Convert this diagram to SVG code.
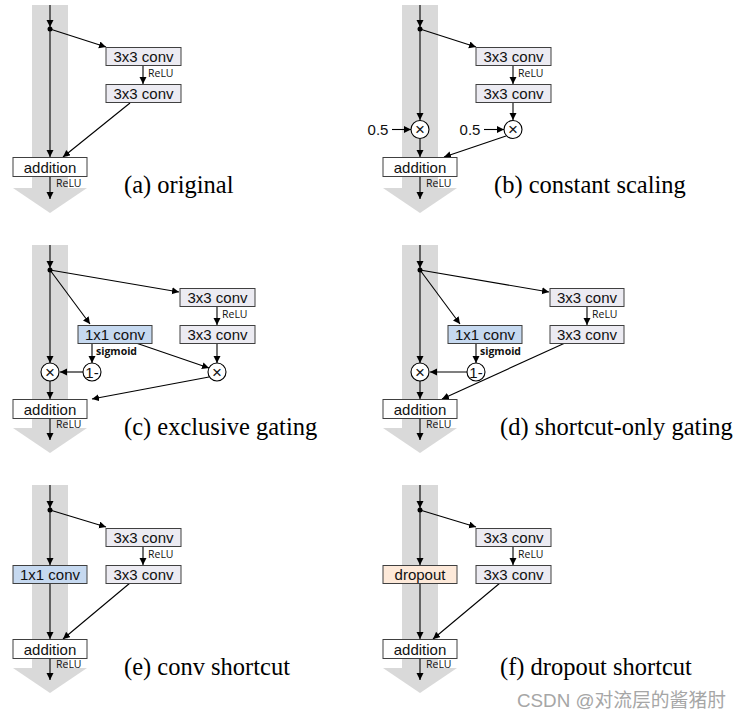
<svg xmlns="http://www.w3.org/2000/svg" width="743" height="719" viewBox="0 0 743 719">
<defs>
<marker id="ah" markerUnits="userSpaceOnUse" markerWidth="8" markerHeight="8" refX="7" refY="3.5" orient="auto"><path d="M0,0 L7,3.5 L0,7 z" fill="#000"/></marker>
<g id="band"><rect x="32" y="0" width="36" height="183" fill="#d9d9d9"/><polygon points="13,183 87,183 50,208" fill="#d9d9d9"/></g>
</defs>
<style>
.ln{stroke:#000;stroke-width:1.1;fill:none}
.ar{stroke:#000;stroke-width:1.1;fill:none;marker-end:url(#ah)}
.box{stroke:#404040;stroke-width:1}
.conv{fill:#ecebf2}
.add{fill:#fff}
.blue{fill:#c6d9f0}
.drop{fill:#fde9d9}
.bt{font-family:"Liberation Sans",Arial,sans-serif;font-size:15px;fill:#111;text-anchor:middle}
.sm{font-family:"Open Sans","Liberation Sans",sans-serif;font-size:10.5px;fill:#111}
.sb{font-family:"Open Sans","Liberation Sans",sans-serif;font-size:10.5px;font-weight:bold;fill:#111}
.cap{font-family:"Liberation Serif","Times New Roman",serif;font-size:24.5px;fill:#000}
.circ{fill:#fff;stroke:#000;stroke-width:1.1}
.ct{font-family:"Liberation Sans",sans-serif;font-size:17px;fill:#111;text-anchor:middle}
.wm{font-family:"Liberation Sans","Noto Sans CJK SC",sans-serif;font-size:18.8px;fill:#a6a6a6}
</style>

<!-- bands -->
<use href="#band" x="0" y="5"/>
<use href="#band" x="370" y="5"/>
<use href="#band" x="0" y="245"/>
<use href="#band" x="370" y="245"/>
<use href="#band" x="0" y="485"/>
<use href="#band" x="370" y="485"/>

<g id="connectors">
<!-- (a) -->
<line class="ar" x1="50" y1="5" x2="50" y2="27"/>
<line class="ar" x1="50" y1="29" x2="50" y2="157"/>
<line class="ar" x1="50" y1="29" x2="106" y2="47"/>
<line class="ar" x1="143" y1="65" x2="143" y2="84"/>
<line class="ar" x1="130" y1="103" x2="63" y2="157"/>
<line class="ar" x1="50" y1="176" x2="50" y2="199"/>
<!-- (b) -->
<line class="ar" x1="420" y1="5" x2="420" y2="27"/>
<line class="ar" x1="420" y1="29" x2="420" y2="120"/>
<line class="ar" x1="420" y1="29" x2="476" y2="47"/>
<line class="ar" x1="513" y1="65" x2="513" y2="84"/>
<line class="ar" x1="513" y1="103" x2="513" y2="120"/>
<line class="ar" x1="392" y1="129.5" x2="411" y2="129.5"/>
<line class="ar" x1="484" y1="129.5" x2="504" y2="129.5"/>
<line class="ar" x1="420" y1="139" x2="420" y2="157"/>
<line class="ar" x1="506" y1="136" x2="444" y2="157"/>
<line class="ar" x1="420" y1="176" x2="420" y2="199"/>
<!-- (c) -->
<line class="ar" x1="50" y1="245" x2="50" y2="268"/>
<line class="ar" x1="50" y1="270" x2="50" y2="363"/>
<line class="ar" x1="50" y1="270" x2="179" y2="292"/>
<line class="ar" x1="50" y1="270" x2="90" y2="324"/>
<line class="ar" x1="217" y1="307" x2="217" y2="325"/>
<line class="ar" x1="217" y1="343" x2="217" y2="363"/>
<line class="ar" x1="92" y1="343" x2="92" y2="363"/>
<line class="ar" x1="136" y1="343" x2="209" y2="368"/>
<line class="ar" x1="83" y1="372" x2="60" y2="372"/>
<line class="ar" x1="50" y1="381" x2="50" y2="399"/>
<line class="ar" x1="209" y1="377" x2="92" y2="399"/>
<line class="ar" x1="50" y1="418" x2="50" y2="440"/>
<!-- (d) -->
<line class="ar" x1="420" y1="245" x2="420" y2="268"/>
<line class="ar" x1="420" y1="270" x2="420" y2="363"/>
<line class="ar" x1="420" y1="270" x2="549" y2="292"/>
<line class="ar" x1="420" y1="270" x2="460" y2="324"/>
<line class="ar" x1="587" y1="307" x2="587" y2="325"/>
<line class="ar" x1="476" y1="343" x2="476" y2="363"/>
<line class="ar" x1="467" y1="372" x2="430" y2="372"/>
<line class="ar" x1="420" y1="381" x2="420" y2="399"/>
<line class="ar" x1="565" y1="343" x2="442" y2="399"/>
<line class="ar" x1="420" y1="418" x2="420" y2="440"/>
<!-- (e) -->
<line class="ar" x1="50" y1="485" x2="50" y2="508"/>
<line class="ar" x1="50" y1="510" x2="50" y2="565"/>
<line class="ar" x1="50" y1="510" x2="106" y2="527"/>
<line class="ar" x1="50" y1="583" x2="50" y2="639"/>
<line class="ar" x1="143" y1="546" x2="143" y2="565"/>
<line class="ar" x1="130" y1="583" x2="63" y2="639"/>
<line class="ar" x1="50" y1="658" x2="50" y2="680"/>
<!-- (f) -->
<line class="ar" x1="420" y1="485" x2="420" y2="508"/>
<line class="ar" x1="420" y1="510" x2="420" y2="565"/>
<line class="ar" x1="420" y1="510" x2="476" y2="527"/>
<line class="ar" x1="420" y1="583" x2="420" y2="639"/>
<line class="ar" x1="513" y1="546" x2="513" y2="565"/>
<line class="ar" x1="500" y1="583" x2="433" y2="639"/>
<line class="ar" x1="420" y1="658" x2="420" y2="680"/>
<!-- dots -->
<circle cx="50" cy="29" r="2.5" fill="#000"/>
<circle cx="420" cy="29" r="2.5" fill="#000"/>
<circle cx="50" cy="270" r="2.5" fill="#000"/>
<circle cx="420" cy="270" r="2.5" fill="#000"/>
<circle cx="50" cy="510" r="2.5" fill="#000"/>
<circle cx="420" cy="510" r="2.5" fill="#000"/>
</g>

<!-- (a) nodes -->
<g id="a-conv1"><rect class="box conv" x="106" y="47.5" width="75" height="18"/><text class="bt" x="143.5" y="62">3x3 conv</text></g>
<text class="sm" x="148" y="77">ReLU</text>
<g id="a-conv2"><rect class="box conv" x="106" y="84.5" width="75" height="18"/><text class="bt" x="143.5" y="99">3x3 conv</text></g>
<g id="a-add"><rect class="box add" x="13" y="157.5" width="74" height="19"/><text class="bt" x="50" y="172.5">addition</text></g>
<text class="sm" x="56" y="187">ReLU</text>
<text class="cap" x="124" y="193">(a) original</text>

<!-- (b) nodes -->
<g id="b-conv1"><rect class="box conv" x="476" y="47.5" width="75" height="18"/><text class="bt" x="513.5" y="62">3x3 conv</text></g>
<text class="sm" x="518" y="77">ReLU</text>
<g id="b-conv2"><rect class="box conv" x="476" y="84.5" width="75" height="18"/><text class="bt" x="513.5" y="99">3x3 conv</text></g>
<g id="b-mul1"><circle class="circ" cx="420" cy="129.5" r="9"/><text class="ct" x="420" y="135">×</text></g>
<g id="b-mul2"><circle class="circ" cx="513" cy="129.5" r="9"/><text class="ct" x="513" y="135">×</text></g>
<text class="bt" x="378" y="135">0.5</text>
<text class="bt" x="470" y="135">0.5</text>
<g id="b-add"><rect class="box add" x="383" y="157.5" width="74" height="19"/><text class="bt" x="420" y="172.5">addition</text></g>
<text class="sm" x="426" y="187">ReLU</text>
<text class="cap" x="494" y="193">(b) constant scaling</text>

<!-- (c) nodes -->
<g id="c-conv1"><rect class="box conv" x="180" y="288.5" width="75" height="18"/><text class="bt" x="217.5" y="303">3x3 conv</text></g>
<text class="sm" x="222" y="318">ReLU</text>
<g id="c-conv2"><rect class="box conv" x="180" y="325.5" width="75" height="18"/><text class="bt" x="217.5" y="340">3x3 conv</text></g>
<g id="c-gate"><rect class="box blue" x="78" y="325.5" width="74" height="18"/><text class="bt" x="115" y="340">1x1 conv</text></g>
<text class="sb" x="96" y="355">sigmoid</text>
<g id="c-mul1"><circle class="circ" cx="50" cy="372" r="9"/><text class="ct" x="50" y="377.5">×</text></g>
<g id="c-inv"><circle class="circ" cx="92" cy="372" r="9"/><text class="bt" x="92" y="377.5">1-</text></g>
<g id="c-mul2"><circle class="circ" cx="217" cy="372" r="9"/><text class="ct" x="217" y="377.5">×</text></g>
<g id="c-add"><rect class="box add" x="13" y="399.5" width="74" height="19"/><text class="bt" x="50" y="414.5">addition</text></g>
<text class="sm" x="56" y="428">ReLU</text>
<text class="cap" x="124" y="435">(c) exclusive gating</text>

<!-- (d) nodes -->
<g id="d-conv1"><rect class="box conv" x="550" y="288.5" width="74" height="18"/><text class="bt" x="587" y="303">3x3 conv</text></g>
<text class="sm" x="592" y="318">ReLU</text>
<g id="d-conv2"><rect class="box conv" x="550" y="325.5" width="74" height="18"/><text class="bt" x="587" y="340">3x3 conv</text></g>
<g id="d-gate"><rect class="box blue" x="448" y="325.5" width="74" height="18"/><text class="bt" x="485" y="340">1x1 conv</text></g>
<text class="sb" x="480" y="355">sigmoid</text>
<g id="d-mul1"><circle class="circ" cx="420" cy="372" r="9"/><text class="ct" x="420" y="377.5">×</text></g>
<g id="d-inv"><circle class="circ" cx="476" cy="372" r="9"/><text class="bt" x="476" y="377.5">1-</text></g>
<g id="d-add"><rect class="box add" x="383" y="399.5" width="74" height="19"/><text class="bt" x="420" y="414.5">addition</text></g>
<text class="sm" x="426" y="428">ReLU</text>
<text class="cap" x="500" y="435">(d) shortcut-only gating</text>

<!-- (e) nodes -->
<g id="e-conv1"><rect class="box conv" x="106" y="528.5" width="75" height="18"/><text class="bt" x="143.5" y="543">3x3 conv</text></g>
<text class="sm" x="148" y="558">ReLU</text>
<g id="e-conv2"><rect class="box conv" x="106" y="565.5" width="75" height="18"/><text class="bt" x="143.5" y="580">3x3 conv</text></g>
<g id="e-short"><rect class="box blue" x="13" y="565.5" width="74" height="18"/><text class="bt" x="50" y="580">1x1 conv</text></g>
<g id="e-add"><rect class="box add" x="13" y="639.5" width="74" height="19"/><text class="bt" x="50" y="654.5">addition</text></g>
<text class="sm" x="56" y="668">ReLU</text>
<text class="cap" x="124" y="675">(e) conv shortcut</text>

<!-- (f) nodes -->
<g id="f-conv1"><rect class="box conv" x="476" y="528.5" width="75" height="18"/><text class="bt" x="513.5" y="543">3x3 conv</text></g>
<text class="sm" x="518" y="558">ReLU</text>
<g id="f-conv2"><rect class="box conv" x="476" y="565.5" width="75" height="18"/><text class="bt" x="513.5" y="580">3x3 conv</text></g>
<g id="f-short"><rect class="box drop" x="383" y="565.5" width="74" height="18"/><text class="bt" x="420" y="580">dropout</text></g>
<g id="f-add"><rect class="box add" x="383" y="639.5" width="74" height="19"/><text class="bt" x="420" y="654.5">addition</text></g>
<text class="sm" x="426" y="668">ReLU</text>
<text class="cap" x="500" y="675">(f) dropout shortcut</text>

<text class="wm" x="517" y="707">CSDN @对流层的酱猪肘</text>
</svg>
